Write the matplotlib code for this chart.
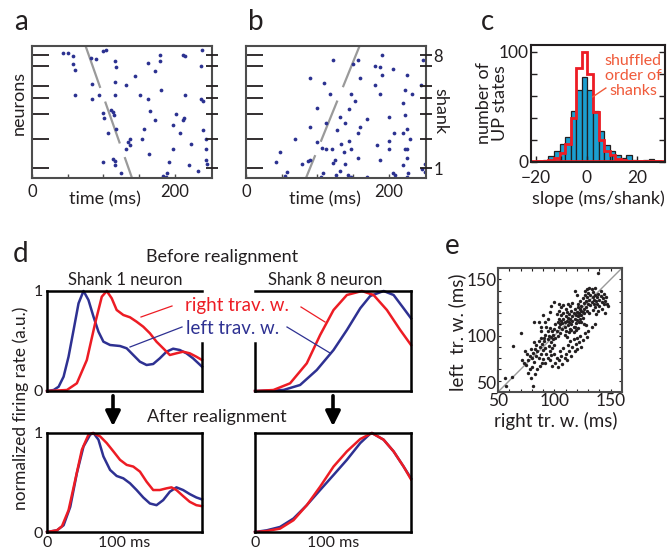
import numpy as np
import matplotlib.pyplot as plt
from matplotlib.lines import Line2D

plt.rcParams['font.family'] = ['Lato', 'DejaVu Sans']
plt.rcParams['text.color'] = '#231f20'
plt.rcParams['xtick.color'] = '#231f20'
plt.rcParams['ytick.color'] = '#231f20'

RED = '#ed1c24'
BLUE = '#2e3192'
DOT = '#2b3190'
GREY = '#9a9a9a'
DARK = '#231f20'
FRAME = '#4d4d4d'
CYAN = '#1b9fd0'
SALMON = '#f05a3a'

# ---- panel a / b : raster (time ms, neuron position) ----
a_spikes = [(43, 37.9), (50, 37.9), (58, 37.0), (83, 36.5), (90, 36.2), (100, 38.4), (103, 38.7),
            (116, 35.4), (118, 33.6), (58, 34.4), (60, 32.8), (162, 34.8), (179, 37.4), (179, 35.4),
            (172, 32.3), (211, 37.4), (214, 37.0), (238, 38.7), (236, 33.8), (144, 30.8), (84, 28.6),
            (116, 29.1), (131, 28.3), (181, 26.6), (60, 25.3), (84, 24.0), (94, 25.3), (116, 25.3),
            (151, 25.3), (162, 24.0), (214, 25.3), (236, 24.0), (239, 23.2), (100, 19.8), (101, 18.2),
            (111, 20.5), (114, 20.0), (115, 19.2), (165, 20.2), (201, 19.5), (213, 18.2), (211, 17.7),
            (172, 17.5), (198, 16.2), (157, 14.7), (107, 13.7), (118, 14.7), (207, 13.7), (239, 14.4),
            (137, 11.9), (154, 11.9), (134, 10.9), (137, 10.1), (131, 8.7), (244, 11.9), (222, 10.4),
            (198, 8.7), (164, 7.4), (244, 8.9), (114, 5.7), (116, 5.1), (100, 4.8), (116, 4.0),
            (192, 4.8), (244, 5.4), (245, 4.3), (220, 4.0), (124, 1.6), (232, 2.0), (189, 1.5),
            (183, 0.6), (187, 0.3)]
a_wave_t = [75, 140]
a_wave_n = [40, 0]

b_spikes = [(122, 35.7), (150, 34.6), (157, 35.7), (191, 37.4), (180, 33.8), (187, 33.6), (206, 33.1),
            (248, 35.7), (90, 30.3), (109, 28.9), (159, 30.3), (191, 31.1), (180, 28.1), (225, 31.1),
            (245, 28.3), (118, 25.6), (147, 25.6), (187, 25.6), (222, 26.8), (232, 25.6), (152, 23.2),
            (220, 22.7), (100, 21.2), (144, 20.8), (131, 18.5), (169, 18.0), (200, 18.5), (222, 19.2),
            (112, 16.7), (138, 16.7), (159, 15.5), (157, 13.7), (128, 14.6), (90, 15.5), (207, 13.7),
            (220, 13.7), (226, 14.7), (229, 11.9), (68, 11.9), (100, 10.9), (144, 11.1), (133, 10.4),
            (200, 11.1), (106, 9.1), (112, 8.7), (121, 8.7), (137, 7.9), (147, 8.7), (184, 9.9),
            (200, 8.7), (222, 8.7), (226, 8.7), (48, 7.9), (157, 6.1), (187, 5.4), (226, 6.1),
            (42, 4.8), (78, 4.3), (87, 5.1), (90, 5.4), (124, 5.4), (122, 4.6), (138, 4.3), (220, 4.0),
            (251, 4.3), (58, 1.8), (54, 0.5), (108, 1.5), (105, 0.3), (126, 0.8), (131, 2.0),
            (143, 1.0), (147, 0.3), (169, 0.3), (206, 1.6), (208, 0.8), (227, 1.5), (225, 0.3),
            (250, 1.8), (247, 2.8)]
b_wave_t = [159, 84]
b_wave_n = [40, 0]

shank_ticks = [37.2, 33.8, 27.8, 24.2, 19.5, 11.9, 3.0]
shank_labels_b = ['8', '', '', '', '', '', '1']

# ---- panel c : slope histogram ----
slope_start = -19.5
slope_bin = 2.2
hist_real = [1, 2, 5, 10, 16, 23, 46, 65, 77, 65, 46, 28, 15, 10, 6, 4, 6, 2, 1, 2, 3, 1]
hist_shuffled = [1, 1, 2, 4, 8, 16, 40, 85, 100, 80, 45, 20, 10, 6, 3, 2, 1, 1, 1, 0, 1, 1]

# ---- panel d : firing rate profiles ----
tl_blue_t = [0, 8.6, 15, 21.4, 27.8, 34.3, 40.7, 47.1, 53.5, 60, 66.4, 72.8, 81.4, 94.2, 102.8,
             111.3, 119.9, 128.5, 137, 145.6, 154.2, 162.7, 171.3, 179.9, 188.4, 200]
tl_blue_r = [0, 0.01, 0.043, 0.143, 0.343, 0.61, 0.877, 1.0, 0.91, 0.743, 0.593, 0.493, 0.46, 0.45,
             0.427, 0.36, 0.293, 0.26, 0.27, 0.327, 0.393, 0.423, 0.41, 0.377, 0.327, 0.243]
tl_red_t = [0, 25.7, 38.5, 51.4, 62.1, 70.7, 77.1, 83.5, 89.9, 98.5, 107.1, 115.6, 124.2, 132.8,
            141.3, 149.9, 158.5, 167, 175.6, 184.2, 192.7, 200]
tl_red_r = [0, 0.01, 0.077, 0.31, 0.677, 0.943, 1.0, 0.927, 0.81, 0.76, 0.737, 0.693, 0.643, 0.577,
            0.493, 0.427, 0.36, 0.377, 0.393, 0.377, 0.343, 0.31]

tr_blue_t = [0, 36.4, 57.8, 79.2, 100.7, 117.8, 134.9, 147.7, 164.9, 177.7, 190.5, 200]
tr_blue_r = [0, 0.01, 0.06, 0.21, 0.41, 0.61, 0.827, 0.95, 1.0, 0.96, 0.827, 0.727]
tr_red_t = [0, 23.6, 45, 66.4, 83.5, 100.7, 117.8, 137, 152, 169.1, 186.2, 200]
tr_red_r = [0, 0.01, 0.077, 0.277, 0.56, 0.81, 0.96, 1.0, 0.96, 0.81, 0.61, 0.46]

bl_blue_t = [0, 12.8, 21.4, 30, 38.5, 47.1, 55.7, 60, 66.4, 72.8, 81.4, 89.9, 98.5, 107.1, 115.6,
             124.2, 132.8, 141.3, 149.9, 158.5, 167, 175.6, 184.2, 192.7, 200]
bl_blue_r = [0, 0.017, 0.068, 0.254, 0.593, 0.864, 0.983, 1.0, 0.932, 0.763, 0.627, 0.566, 0.542,
             0.492, 0.424, 0.349, 0.288, 0.271, 0.322, 0.407, 0.451, 0.424, 0.383, 0.349, 0.329]
bl_red_t = [0, 12.8, 19.3, 27.8, 36.4, 45, 53.5, 59.1, 68.5, 77.1, 85.7, 94.2, 102.8, 111.3, 119.9,
            128.5, 137, 145.6, 154.2, 160.6, 167, 175.6, 184.2, 192.7, 200]
bl_red_r = [0, 0.017, 0.058, 0.22, 0.525, 0.831, 0.983, 1.0, 0.966, 0.898, 0.814, 0.729, 0.678,
            0.661, 0.61, 0.508, 0.424, 0.424, 0.441, 0.451, 0.424, 0.363, 0.305, 0.271, 0.261]

br_blue_t = [0, 15, 32.1, 49.3, 66.4, 83.5, 100.7, 117.8, 134.9, 147.7, 149.9, 164.9, 177.7, 190.5, 200]
br_blue_r = [0, 0.017, 0.051, 0.136, 0.271, 0.424, 0.576, 0.729, 0.898, 0.993, 1.0, 0.932, 0.814,
             0.661, 0.542]
br_red_t = [0, 15, 32.1, 49.3, 66.4, 83.5, 100.7, 117.8, 134.9, 149.9, 164.9, 177.7, 190.5, 200]
br_red_r = [0, 0.01, 0.034, 0.119, 0.271, 0.458, 0.661, 0.814, 0.939, 1.0, 0.932, 0.814, 0.661, 0.532]

# ---- panel e : travelling-wave durations (right, left) ----
tw_pairs = [
    (121, 128), (123, 131), (124, 126), (125, 133), (126, 129), (127, 136), (128, 131), (128, 125),
    (129, 134), (130, 128), (130, 138), (131, 132), (132, 136), (132, 127), (133, 130), (134, 134),
    (134, 139), (135, 128), (135, 132), (136, 136), (136, 125), (137, 131), (138, 134), (138, 128),
    (139, 137), (140, 132), (140, 126), (141, 135), (142, 130), (143, 133), (144, 128), (145, 131),
    (146, 134), (147, 128), (148, 126), (127, 140), (129, 141), (131, 142), (133, 141), (120, 136),
    (118, 140), (124, 122), (126, 120), (122, 118), (139, 122), (142, 124), (137, 119), (144, 137),
    (136, 142), (141, 140), (129, 122), (131, 120), (134, 123), (145, 120), (139, 156),
    (100, 106), (101, 110), (102, 104), (103, 112), (104, 108), (104, 115), (105, 102), (105, 110),
    (106, 113), (106, 118), (107, 106), (107, 111), (108, 115), (108, 120), (109, 108), (109, 112),
    (110, 117), (110, 104), (111, 113), (111, 121), (112, 109), (112, 116), (113, 119), (113, 112),
    (114, 106), (114, 115), (115, 122), (115, 110), (116, 117), (116, 113), (117, 120), (117, 108),
    (118, 115), (118, 124), (119, 118), (119, 111), (120, 121), (120, 114), (121, 117), (121, 125),
    (122, 112), (122, 120), (123, 115), (123, 124), (124, 118), (124, 112), (125, 121), (125, 116),
    (126, 124), (126, 110), (102, 119), (104, 122), (106, 125), (108, 127), (110, 124), (112, 128),
    (114, 126), (116, 129), (118, 108), (119, 105), (121, 107), (103, 100), (101, 98), (99, 101),
    (98, 104), (97, 99), (109, 101), (111, 99), (113, 103), (115, 105),
    (75, 74), (77, 78), (78, 82), (80, 80), (81, 85), (82, 77), (83, 88), (84, 82), (85, 86), (86, 80),
    (87, 90), (88, 84), (89, 93), (90, 87), (90, 79), (91, 95), (92, 89), (93, 84), (94, 97), (95, 91),
    (95, 100), (96, 86), (97, 94), (98, 89), (99, 97), (100, 92), (86, 95), (88, 98), (84, 92),
    (92, 101), (94, 104), (96, 107), (91, 98), (89, 76), (87, 73), (92, 76), (94, 80), (97, 83),
    (85, 70), (80, 72), (78, 70), (73, 76), (71, 78), (76, 84), (79, 88), (74, 86), (82, 94),
    (100, 84), (102, 80), (104, 78), (105, 86), (106, 82), (107, 75), (108, 89), (109, 80), (110, 84),
    (111, 78), (112, 92), (113, 86), (114, 95), (115, 82), (116, 90), (117, 97), (118, 86), (119, 93),
    (120, 98), (122, 94), (123, 100), (125, 96), (127, 102), (129, 99), (130, 104), (133, 108),
    (120, 88), (124, 90), (103, 72), (98, 73), (101, 76), (96, 78), (117, 103), (128, 109),
    (82, 112), (86, 112), (92, 112), (100, 130), (104, 128), (90, 118), (96, 121), (97, 126),
    (94, 115), (88, 108), (70, 102), (63, 91), (56, 62), (62, 63), (57, 55), (81, 55), (79, 62),
    (83, 66), (77, 67), (136, 110), (88, 104), (93, 108)]

W, H = 671, 554
fig = plt.figure(figsize=(W / 100, H / 100), dpi=100)


def box(x0, y0, x1, y1):
    return fig.add_axes([x0 / W, 1 - y1 / H, (x1 - x0) / W, (y1 - y0) / H])


def ftext(x, y, s, **kw):
    kw.setdefault('ha', 'center')
    kw.setdefault('va', 'center')
    fig.text(x / W, 1 - y / H, s, **kw)


def fline(xs, ys, **kw):
    fig.add_artist(Line2D([x / W for x in xs], [1 - y / H for y in ys],
                          transform=fig.transFigure, **kw))


def raster(rect, spikes, wave_t, wave_n, right_labels):
    ax = box(*rect)
    t, n = np.array(spikes).T
    ax.plot(wave_t, wave_n, color=GREY, lw=1.6, dashes=(20, 6.5), dash_capstyle='butt')
    ax.plot(t, n, 'o', ms=2.7, color=DOT, mec='none')
    ax.set_xlim(0, 252)
    ax.set_ylim(0, 40)
    ax.set_xticks([0, 200])
    ax.set_xticks([50, 100, 150], minor=True)
    ax.tick_params(axis='x', which='both', direction='in', length=3, width=1,
                   labelsize=12, pad=4, color=FRAME)
    ax.set_yticks(shank_ticks)
    ax.tick_params(axis='y', direction='in', length=12, width=1.3, labelleft=False, color=DARK)
    for s in ax.spines.values():
        s.set_color(FRAME)
        s.set_linewidth(1.5)
    tw = ax.twinx()
    tw.set_ylim(0, 40)
    tw.set_yticks(shank_ticks)
    tw.set_yticklabels(right_labels)
    tw.tick_params(axis='y', direction='inout', length=9, width=1.3, labelsize=12, pad=1, color=DARK)
    for s in tw.spines.values():
        s.set_visible(False)
    return ax


# panel a, b
raster((32, 46, 212, 178), a_spikes, a_wave_t, a_wave_n, [''] * 7)
raster((246, 46, 426, 178), b_spikes, b_wave_t, b_wave_n, shank_labels_b)
ftext(21, 22, 'a', fontsize=20)
ftext(256, 22, 'b', fontsize=20)
ftext(19, 103, 'neurons', fontsize=13, rotation=90)
ftext(105, 199, 'time (ms)', fontsize=13)
ftext(325, 199, 'time (ms)', fontsize=13)
ftext(440, 111, 'shank', fontsize=13, rotation=270)

# panel c
axc = box(531, 45, 665, 162)
edges = slope_start + slope_bin * np.arange(len(hist_real) + 1)
axc.bar(edges[:-1], hist_real, width=slope_bin, align='edge', color=CYAN,
        edgecolor=DARK, linewidth=0.9)
axc.stairs(hist_shuffled, edges, color=RED, lw=2)
axc.axhline(0.8, color=RED, lw=2)
axc.plot([2.4, 7.6], [59, 67], color=SALMON, lw=1)
axc.set_xlim(-22, 31)
axc.set_ylim(0, 106)
axc.set_yticks([0, 100])
axc.set_yticks([20, 40, 60, 80], minor=True)
axc.set_xticks([-20, 0, 20])
axc.set_xticks([-10, 10], minor=True)
axc.tick_params(which='both', direction='in', length=4, width=1, labelsize=12.5, pad=2,
                right=True)
axc.tick_params(axis='x', pad=6)
for s in axc.spines.values():
    s.set_color(DARK)
    s.set_linewidth(1.5)
ftext(488, 22, 'c', fontsize=20)
ftext(633, 76, 'shuffled\norder of\nshanks', fontsize=11.5, color=SALMON, linespacing=1.05)
ftext(492, 103, 'number of\nUP states', fontsize=13, rotation=90, linespacing=0.95)
ftext(598, 199, 'slope (ms/shank)', fontsize=13)


# panel d
def profile(rect, bt, br, rt, rr, ylab, xlab):
    ax = box(*rect)
    ax.plot(bt, br, color=BLUE, lw=1.8, clip_on=False)
    ax.plot(rt, rr, color=RED, lw=1.8, clip_on=False)
    ax.set_xlim(0, 200)
    ax.set_ylim(0, 1)
    ax.set_yticks([0, 1])
    ax.set_yticklabels(['0', '1'] if ylab else [])
    ax.set_xticks([0, 100])
    ax.set_xticklabels(['0', '100 ms'] if xlab else [])
    ax.tick_params(length=0, labelsize=11.5, pad=3)
    for s in ax.spines.values():
        s.set_color('black')
        s.set_linewidth(1.8)
    return ax


d_tl = profile((47, 291, 202, 391), tl_blue_t, tl_blue_r, tl_red_t, tl_red_r, True, False)
d_tl.spines['right'].set_bounds(0, 0.48)
d_tr = profile((255, 291, 411, 391), tr_blue_t, tr_blue_r, tr_red_t, tr_red_r, False, False)
d_tr.spines['left'].set_bounds(0, 0.48)
profile((47, 433, 202, 532), bl_blue_t, bl_blue_r, bl_red_t, bl_red_r, True, True)
profile((255, 433, 411, 532), br_blue_t, br_blue_r, br_red_t, br_red_r, False, True)

ftext(21, 254, 'd', fontsize=20)
ftext(222, 257, 'Before realignment', fontsize=13)
ftext(125, 280, 'Shank 1 neuron', fontsize=12)
ftext(325, 280, 'Shank 8 neuron', fontsize=12)
ftext(237, 305, 'right trav. w.', fontsize=13.5, color=RED)
ftext(233, 328, 'left trav. w.', fontsize=13.5, color=BLUE)
ftext(217, 417, 'After realignment', fontsize=13)
ftext(21, 408, 'normalized firing rate (a.u.)', fontsize=12.5, rotation=90)
fline([141, 172], [317, 306], color=RED, lw=0.9)
fline([301, 325], [307, 322], color=RED, lw=0.9)
fline([130, 182], [347, 327], color=BLUE, lw=0.9)
fline([287, 330], [327, 353], color=BLUE, lw=0.9)
for ax_x in (113, 333):
    d_tl.annotate('', xy=(ax_x / W, 1 - 429 / H), xytext=(ax_x / W, 1 - 393 / H),
                  xycoords='figure fraction', textcoords='figure fraction',
                  arrowprops=dict(arrowstyle='-|>', color='black', lw=2.6, mutation_scale=22))

# panel e
axe = box(498, 268, 622, 392)
rw, lw_ = np.array(tw_pairs).T
axe.plot([50, 160], [50, 160], color=GREY, lw=1, zorder=1)
axe.scatter(rw, lw_, s=6, c=DARK, linewidths=0, zorder=2)
axe.set_xlim(50, 160)
axe.set_ylim(50, 160)
axe.set_xticks([50, 100, 150])
axe.set_yticks([50, 100, 150])
axe.set_xticks(np.arange(60, 160, 10), minor=True)
axe.set_yticks(np.arange(60, 160, 10), minor=True)
axe.tick_params(which='both', direction='in', length=2.5, width=0.8, top=True, right=True,
                labelsize=12.5, pad=1)
axe.get_yticklabels()[0].set_va('bottom')
for s in axe.spines.values():
    s.set_color(FRAME)
    s.set_linewidth(1.5)
ftext(452, 246, 'e', fontsize=20)
ftext(457, 332, 'left  tr. w. (ms)', fontsize=13.5, rotation=90)
ftext(556, 421, 'right tr. w. (ms)', fontsize=13.5)

fig.savefig('out.png', dpi=100)
